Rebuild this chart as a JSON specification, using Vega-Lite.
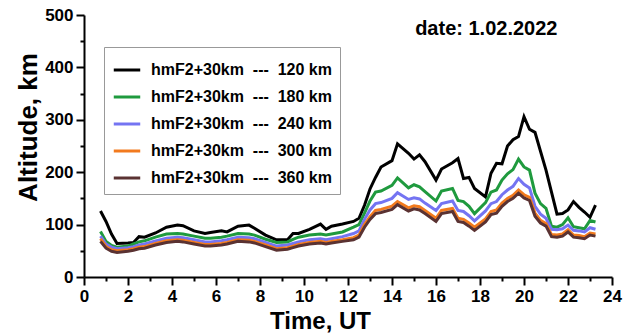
{
  "$schema": "https://vega.github.io/schema/vega-lite/v6.json",
  "width": 528,
  "height": 262,
  "autosize": {"type": "none"},
  "padding": {"left": 84, "top": 15, "right": 26, "bottom": 59},
  "background": "white",
  "title": {"text": "date: 1.02.2022", "anchor": "end", "orient": "top", "dx": -64, "offset": -33, "fontSize": 20, "font": "Liberation Sans", "fontWeight": "bold", "color": "black"},
  "data": {"values": [
    {"t":0.75,"A":126,"B":87,"C":78,"D":73,"E":68},
    {"t":1.0,"A":106,"B":68,"C":63,"D":58,"E":55},
    {"t":1.25,"A":82,"B":60,"C":57,"D":52,"E":49},
    {"t":1.5,"A":64,"B":57,"C":54,"D":50,"E":47},
    {"t":2.0,"A":65,"B":59,"C":56,"D":52,"E":49},
    {"t":2.25,"A":66,"B":63,"C":58,"D":54,"E":51},
    {"t":2.5,"A":77,"B":67,"C":61,"D":57,"E":54},
    {"t":2.75,"A":76,"B":69,"C":63,"D":58,"E":55},
    {"t":3.25,"A":84,"B":76,"C":69,"D":64,"E":61},
    {"t":3.75,"A":95,"B":82,"C":74,"D":69,"E":66},
    {"t":4.25,"A":99,"B":83,"C":76,"D":71,"E":68},
    {"t":4.5,"A":98,"B":82,"C":75,"D":70,"E":67},
    {"t":5.0,"A":88,"B":78,"C":71,"D":66,"E":63},
    {"t":5.5,"A":83,"B":74,"C":67,"D":62,"E":59},
    {"t":5.75,"A":85,"B":74,"C":67,"D":62,"E":59},
    {"t":6.25,"A":88,"B":76,"C":69,"D":64,"E":61},
    {"t":6.5,"A":86,"B":78,"C":71,"D":66,"E":63},
    {"t":7.0,"A":97,"B":83,"C":76,"D":71,"E":68},
    {"t":7.5,"A":99,"B":82,"C":75,"D":70,"E":67},
    {"t":7.75,"A":93,"B":80,"C":73,"D":68,"E":65},
    {"t":8.25,"A":80,"B":72,"C":66,"D":61,"E":58},
    {"t":8.75,"A":71,"B":66,"C":59,"D":54,"E":51},
    {"t":9.25,"A":71,"B":67,"C":61,"D":56,"E":53},
    {"t":9.5,"A":83,"B":72,"C":64,"D":59,"E":56},
    {"t":9.75,"A":83,"B":76,"C":67,"D":62,"E":59},
    {"t":10.25,"A":91,"B":80,"C":71,"D":66,"E":63},
    {"t":10.75,"A":101,"B":82,"C":73,"D":68,"E":65},
    {"t":11.0,"A":91,"B":80,"C":71,"D":66,"E":63},
    {"t":11.25,"A":97,"B":82,"C":73,"D":68,"E":65},
    {"t":11.75,"A":101,"B":86,"C":77,"D":71,"E":68},
    {"t":12.25,"A":106,"B":95,"C":83,"D":75,"E":71},
    {"t":12.5,"A":112,"B":100,"C":88,"D":80,"E":76},
    {"t":12.75,"A":137,"B":122,"C":110,"D":100,"E":95},
    {"t":13.0,"A":168,"B":145,"C":128,"D":115,"E":110},
    {"t":13.25,"A":190,"B":162,"C":140,"D":127,"E":121},
    {"t":13.5,"A":210,"B":164,"C":142,"D":129,"E":123},
    {"t":14.0,"A":222,"B":175,"C":150,"D":135,"E":129},
    {"t":14.25,"A":254,"B":189,"C":161,"D":144,"E":138},
    {"t":14.75,"A":236,"B":170,"C":148,"D":132,"E":126},
    {"t":15.0,"A":225,"B":176,"C":151,"D":136,"E":130},
    {"t":15.25,"A":233,"B":172,"C":149,"D":134,"E":128},
    {"t":15.5,"A":220,"B":163,"C":141,"D":127,"E":121},
    {"t":16.0,"A":185,"B":145,"C":127,"D":112,"E":106},
    {"t":16.25,"A":206,"B":164,"C":140,"D":127,"E":121},
    {"t":16.75,"A":218,"B":169,"C":145,"D":131,"E":125},
    {"t":17.0,"A":226,"B":146,"C":127,"D":112,"E":106},
    {"t":17.25,"A":188,"B":144,"C":125,"D":110,"E":104},
    {"t":17.5,"A":190,"B":135,"C":117,"D":103,"E":97},
    {"t":17.75,"A":169,"B":121,"C":107,"D":95,"E":89},
    {"t":18.25,"A":153,"B":142,"C":126,"D":111,"E":105},
    {"t":18.5,"A":198,"B":162,"C":140,"D":125,"E":119},
    {"t":18.75,"A":217,"B":166,"C":144,"D":128,"E":122},
    {"t":19.0,"A":216,"B":185,"C":157,"D":141,"E":135},
    {"t":19.25,"A":250,"B":197,"C":166,"D":150,"E":144},
    {"t":19.5,"A":262,"B":205,"C":173,"D":156,"E":150},
    {"t":19.75,"A":268,"B":225,"C":188,"D":166,"E":160},
    {"t":20.0,"A":306,"B":210,"C":177,"D":157,"E":151},
    {"t":20.25,"A":282,"B":204,"C":170,"D":152,"E":146},
    {"t":20.5,"A":276,"B":160,"C":135,"D":122,"E":116},
    {"t":20.75,"A":240,"B":140,"C":120,"D":108,"E":103},
    {"t":21.0,"A":204,"B":131,"C":112,"D":102,"E":97},
    {"t":21.25,"A":162,"B":97,"C":91,"D":81,"E":77},
    {"t":21.5,"A":120,"B":95,"C":90,"D":80,"E":76},
    {"t":21.75,"A":121,"B":100,"C":92,"D":82,"E":78},
    {"t":22.0,"A":128,"B":113,"C":99,"D":90,"E":86},
    {"t":22.25,"A":144,"B":96,"C":89,"D":80,"E":76},
    {"t":22.5,"A":133,"B":94,"C":88,"D":79,"E":75},
    {"t":22.75,"A":124,"B":92,"C":86,"D":77,"E":73},
    {"t":23.0,"A":114,"B":108,"C":94,"D":84,"E":80},
    {"t":23.25,"A":137,"B":105,"C":91,"D":82,"E":78}
  ]},
  "transform": [{"fold": ["A", "B", "C", "D", "E"], "as": ["series", "value"]}],
  "mark": {"type": "line", "strokeWidth": 3, "strokeJoin": "miter", "clip": true},
  "encoding": {
    "x": {
      "field": "t", "type": "quantitative",
      "scale": {"domain": [0, 24], "nice": false, "zero": false},
      "axis": {
        "values": [0,1,2,3,4,5,6,7,8,9,10,11,12,13,14,15,16,17,18,19,20,21,22,23,24],
        "labelExpr": "datum.value % 2 === 0 ? datum.label : ''",
        "tickSize": {"condition": {"test": "datum.value % 2 === 0", "value": 8}, "value": 4},
        "grid": false,
        "domainColor": "black", "domainWidth": 2,
        "tickColor": "black", "tickWidth": 2,
        "labelFont": "Liberation Sans", "labelFontSize": 17, "labelFontWeight": "bold", "labelColor": "black",
        "labelPadding": 3, "labelFlush": false, "labelOverlap": false,
        "title": "Time, UT",
        "titleFont": "Liberation Sans", "titleFontSize": 24, "titleFontWeight": "bold", "titleColor": "black",
        "titleX": 236, "titleY": 32
      }
    },
    "y": {
      "field": "value", "type": "quantitative",
      "scale": {"domain": [0, 500], "nice": false},
      "axis": {
        "values": [0,50,100,150,200,250,300,350,400,450,500],
        "labelExpr": "datum.value % 100 === 0 ? datum.label : ''",
        "tickSize": {"condition": {"test": "datum.value % 100 === 0", "value": 8}, "value": 4},
        "grid": false,
        "domainColor": "black", "domainWidth": 2,
        "tickColor": "black", "tickWidth": 2,
        "labelFont": "Liberation Sans", "labelFontSize": 17, "labelFontWeight": "bold", "labelColor": "black",
        "labelPadding": 3, "labelFlush": false, "labelOverlap": false,
        "title": "Altitude, km",
        "titleFont": "Liberation Sans", "titleFontSize": 26, "titleFontWeight": "bold", "titleColor": "black",
        "titleX": -43, "titleY": 112
      }
    },
    "color": {
      "field": "series", "type": "nominal",
      "scale": {"domain": ["A", "B", "C", "D", "E"], "range": ["#000000", "#1f9a3e", "#7474f2", "#f27a1e", "#5a3232"]},
      "legend": {
        "orient": "none", "legendX": 20, "legendY": 32,
        "title": null,
        "labelExpr": "{'A':'hmF2+30km\u00a0\u00a0---\u00a0\u00a0120\u00a0km','B':'hmF2+30km\u00a0\u00a0---\u00a0\u00a0180\u00a0km','C':'hmF2+30km\u00a0\u00a0---\u00a0\u00a0240\u00a0km','D':'hmF2+30km\u00a0\u00a0---\u00a0\u00a0300\u00a0km','E':'hmF2+30km\u00a0\u00a0---\u00a0\u00a0360\u00a0km'}[datum.label]",
        "symbolType": "stroke", "symbolStrokeWidth": 3, "symbolSize": 700,
        "labelFont": "Liberation Sans", "labelFontSize": 16, "labelFontWeight": "bold", "labelColor": "black",
        "labelOffset": 9, "rowPadding": 4,
        "strokeColor": "#999999", "fillColor": "white", "padding": 8,
        "labelLimit": 400
      }
    }
  },
  "config": {"view": {"stroke": null}}
}
